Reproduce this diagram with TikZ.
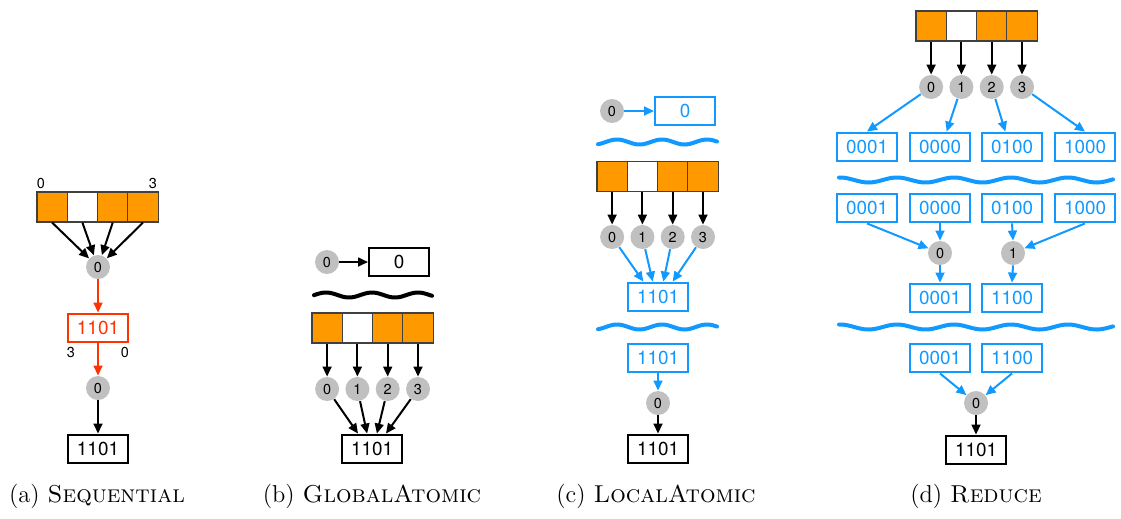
\documentclass[tikz,border=0pt]{standalone}
\usepackage{fontspec}
\setsansfont{TeX Gyre Heros}
\usetikzlibrary{arrows.meta}
\definecolor{bitorange}{RGB}{255,153,0}
\definecolor{tidgray}{RGB}{192,192,192}
\definecolor{seqred}{RGB}{255,51,0}
\definecolor{locblue}{RGB}{17,153,255}
\tikzset{
	cell/.style={rectangle, draw=black!75, line width=0.5pt, minimum width=13.6pt, minimum height=13.5pt, inner sep=0pt},
	tid/.style={circle, fill=tidgray, minimum size=10.8pt, inner sep=0pt, font=\sffamily\fontsize{6.5}{7}\selectfont},
	val/.style={rectangle, draw, line width=0.9pt, minimum width=27pt, minimum height=13pt, inner sep=0pt, font=\sffamily\fontsize{8.5}{9}\selectfont},
	rval/.style={val, draw=seqred, text=seqred},
	bval/.style={val, draw=locblue, text=locblue},
	idx/.style={font=\sffamily\fontsize{6.5}{7}\selectfont, inner sep=0pt},
	arr/.style={-{Triangle[length=4.5pt, width=4pt]}, line width=0.9pt},
	wavy/.style={line width=1.8pt, line cap=round, smooth},
	capt/.style={font=\fontsize{11}{13}\selectfont, inner sep=0pt}
}

\begin{document}
\begin{tikzpicture}[x=0.45pt, y=-0.45pt]
		\useasboundingbox (0,0) rectangle (1121,518);

		%(a) sequential
		\foreach \c [count=\i from 0] in {bitorange,white,bitorange,bitorange}
			\node[cell, fill=\c] at ({52.1+30.3*\i},207) (sa\i) {};
		\node[idx] at (41,183) (sal) {0};
		\node[idx] at (153,183) (sar) {3};
		\node[tid] at (98,267) (sat) {0};
		\node[rval] at (98,328) (sav) {1101};
		\node[idx] at (71,352) (sal3) {3};
		\node[idx] at (125,352) (sal0) {0};
		\node[tid] at (98,388) (sat2) {0};
		\node[val] at (98,449) (sao) {1101};

		\foreach \i in {0,...,3}
			\draw[arr] (sa\i.south) -- (sat);
		\draw[arr, seqred] (sat.south) -- (sav.north);
		\draw[arr, seqred] (sav.south) -- (sat2.north);
		\draw[arr] (sat2.south) -- (sao.north);

		%(b) global atomic
		\node[tid] at (327,262) (gt) {0};
		\node[val] at (399,262) (gv) {0};
		\draw[arr] (gt.east) -- (gv.west);
		\draw[wavy] plot[domain=314:432, samples=60] (\x, {295-2.5*cos(360/46*(\x-326))});
		\foreach \c [count=\i from 0] in {bitorange,white,bitorange,bitorange}{
			\node[cell, fill=\c] at ({327.1+30.3*\i},328) (ga\i) {};
			\node[tid] at ({327.1+30.3*\i},389) (gc\i) {\i};
			\draw[arr] (ga\i.south) -- (gc\i.north);
		}
		\node[val] at (372,449) (go) {1101};
		\foreach \i/\d in {0/-6.3,1/-2.2,2/2.2,3/6.3}
			\draw[arr] (gc\i) -- ([xshift=\d pt]go.north);

		%(c) local atomic
		\node[tid] at (612,111) (lt) {0};
		\node[bval] at (685,111) (lv) {0};
		\draw[arr, locblue] (lt.east) -- (lv.west);
		\draw[wavy, locblue] plot[domain=598:717, samples=60] (\x, {142-2.5*cos(360/45*(\x-617))});
		\foreach \c [count=\i from 0] in {bitorange,white,bitorange,bitorange}{
			\node[cell, fill=\c] at ({612.1+30.3*\i},176.5) (la\i) {};
			\node[tid] at ({612.1+30.3*\i},237) (lc\i) {\i};
			\draw[arr] (la\i.south) -- (lc\i.north);
		}
		\node[bval] at (658,297) (lm) {1101};
		\foreach \i/\d in {0/-6.6,1/-2.4,2/2.4,3/6.6}
			\draw[arr, locblue] (lc\i) -- ([xshift=\d pt]lm.north);
		\draw[wavy, locblue] plot[domain=598:717, samples=60] (\x, {327-2.5*cos(360/45*(\x-617))});
		\node[bval] at (658,358) (lr) {1101};
		\node[tid] at (658,403) (lt2) {0};
		\node[val] at (658,449) (lo) {1101};
		\draw[arr, locblue] (lr.south) -- (lt2.north);
		\draw[arr] (lt2.south) -- (lo.north);

		%(d) reduce
		\foreach \c [count=\i from 0] in {bitorange,white,bitorange,bitorange}{
			\node[cell, fill=\c] at ({931.1+30.3*\i},26) (ra\i) {};
			\node[tid] at ({931.1+30.3*\i},87) (rc\i) {\i};
			\draw[arr] (ra\i.south) -- (rc\i.north);
		}
		\foreach \v/\x [count=\i from 0] in {0001/867,0000/940,0100/1012,1000/1085}{
			\node[bval] at (\x,147) (rp\i) {\v};
			\node[bval] at (\x,208) (rq\i) {\v};
		}
		\draw[arr, locblue] (rc0) -- (rp0.north);
		\draw[arr, locblue] (rc1) -- ([xshift=3pt]rp1.north);
		\draw[arr, locblue] (rc2) -- ([xshift=-3pt]rp2.north);
		\draw[arr, locblue] (rc3) -- (rp3.north);
		\draw[wavy, locblue] plot[domain=839:1113, samples=120] (\x, {180-2.5*cos(360/57*(\x-840))});

		\node[tid] at (940,253) (rs0) {0};
		\node[tid] at (1013,253) (rs1) {1};
		\draw[arr, locblue] (rq0.south) -- (rs0);
		\draw[arr, locblue] (rq1.south) -- (rs0.north);
		\draw[arr, locblue] (rq2.south) -- (rs1.north);
		\draw[arr, locblue] (rq3.south) -- (rs1);
		\node[bval] at (940,298) (rt0) {0001};
		\node[bval] at (1012,298) (rt1) {1100};
		\draw[arr, locblue] (rs0.south) -- (rt0.north);
		\draw[arr, locblue] (rs1.south) -- (rt1.north);
		\draw[wavy, locblue] plot[domain=839:1113, samples=120] (\x, {327-2.5*cos(360/57*(\x-840))});

		\node[bval] at (940,358) (ru0) {0001};
		\node[bval] at (1012,358) (ru1) {1100};
		\node[tid] at (976,403) (rf) {0};
		\node[val] at (976,450) (ro) {1101};
		\draw[arr, locblue] (ru0.south) -- (rf);
		\draw[arr, locblue] (ru1.south) -- (rf);
		\draw[arr] (rf.south) -- (ro.north);

		%captions
		\node[capt] at (97,496) (ca) {(a) \textsc{Sequential}};
		\node[capt] at (372,496) (cb) {(b) \textsc{GlobalAtomic}};
		\node[capt] at (656,496) (cc) {(c) \textsc{LocalAtomic}};
		\node[capt] at (976,496) (cd) {(d) \textsc{Reduce}};
	\end{tikzpicture}
\end{document}
